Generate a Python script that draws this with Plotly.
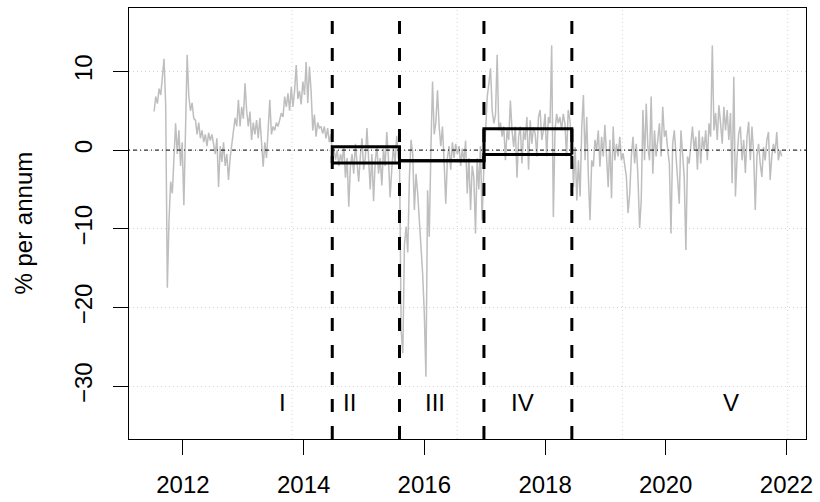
import pandas as pd
import plotly.graph_objects as go

# Start of the sample and the four structural break dates
sample_start = "2011-07-11"
break_dates = ["2014-06-23", "2015-08-04", "2016-12-27", "2018-06-12"]
step = "10D"

# Spread (% per annum), one observation every 10 days within each regime
regime_I = [
    4.9, 6.8, 5.9, 7.8, 7.0, 9.5, 11.6, 5.8, -17.5, -9.0,
    -4.0, -5.5, -1.0, 3.4, -0.5, 2.5, -2.0, 1.0, -7.0, 4.0,
    12.1, 6.8, 5.0, 6.0, 4.0, 3.8, 2.0, 3.5, 1.5, 2.5,
    1.0, 2.0, 0.5, 2.2, 1.2, 2.0, 0.8, -0.5, 1.5, -4.7,
    0.5, -1.5, 1.0, -2.0, -0.5, -3.8, -1.0, 1.0, 2.5, 4.1,
    3.0, 6.4, 3.0, 5.5, 4.0, 8.5, 5.0, 3.0, 4.9, 1.3,
    3.5, 2.0, 3.8, 1.5, 4.1, 0.5, -2.1, 1.0, -1.0, 2.5,
    6.4, 2.0, 3.0, 2.5, 3.5, 3.0, 4.0, 4.7, 4.2, 6.8,
    5.5, 7.2, 5.0, 8.0, 5.5, 7.5, 10.8, 6.5, 7.5, 5.8,
    8.7, 7.0, 11.2, 6.0, 10.6, 7.5, 2.5, 4.5, 1.7, 3.5,
    2.8, 3.0, 2.1, 3.0, 1.5, 2.8, 1.0, 2.0,
]
regime_II = [
    -0.5, 0.3, -1.2, 0.0, -2.0, -0.5, -1.5, 0.5, -3.5, -1.0,
    -7.2, -2.0, -0.5, -3.0, 0.8, -1.5, -4.0, -0.8, 1.5, -2.5,
    -1.0, 2.8, -1.8, -5.0, -0.5, -6.5, -1.5, 0.5, -3.0, -1.0,
    -4.5, 0.2, -2.0, 2.3, -1.0, -6.0, -2.5, 0.5, -1.8, 1.8,
    -1.0,
]
regime_III = [
    -1.0, -22.9, -25.8, -12.0, -9.7, -13.0, -3.4, 1.3, -0.5, -7.6,
    -3.0, -5.5, -9.0, -11.9, -15.7, -20.7, -28.8, -5.1, -11.0, 0.0,
    8.7, 2.0, 3.5, 7.6, 3.0, 0.5, 3.0, -1.5, -6.8, -1.0,
    0.5, -2.5, 1.0, -1.0, 0.8, -0.5, 0.5, -2.0, 0.2, -1.5,
    1.2, -5.5, -1.0, -7.6, -2.0, -3.5, -10.6, -1.0, -5.0, 0.5,
    -8.9,
]
regime_IV = [
    -2.0, 3.4, 6.8, 8.5, 10.4, 5.0, 3.4, 4.5, 12.1, 2.5,
    3.5, 1.7, 3.0, -1.3, 2.5, 1.3, 6.3, 2.5, 0.4, 3.0,
    -3.5, 1.7, 3.0, -1.7, 2.5, 1.3, 4.2, -2.5, 3.8, 0.8,
    2.9, 2.1, -0.8, 4.2, 5.1, 1.3, 2.5, 4.6, -0.8, 4.2,
    3.4, 13.3, -8.5, 2.5, 4.6, 3.4, 4.2, 2.5, 4.6, 3.4,
    -0.8, 5.1, 3.8,
]
regime_V = [
    1.0, -4.7, 0.4, -6.4, -1.3, -5.9, 3.0, 7.0, -1.3, 4.2,
    -3.4, -8.9, -1.3, -2.1, 1.3, 0.0, 2.5, -2.1, 1.7, -0.8,
    3.2, -0.4, -4.7, 1.3, -6.1, 3.0, -1.3, 0.8, -0.8, 1.7,
    -1.3, -0.4, -1.7, -3.4, -8.0, -5.6, -0.8, 1.7, -1.7, 0.8,
    -3.4, -9.9, -6.4, 5.1, -1.3, 5.9, 0.4, -1.3, 6.8, -3.0,
    2.5, -0.8, 1.3, 3.4, -0.8, 5.5, 1.7, 2.5, 0.0, -1.7,
    -10.6, 0.8, 2.5, -0.8, -3.4, -6.8, 2.5, -0.8, -3.4, -12.7,
    -0.8, -1.7, 1.3, 3.0, 0.0, 1.7, -2.5, 2.5, -1.7, 1.7,
    0.0, 2.5, -1.3, 3.4, 1.7, 13.3, 2.5, 4.7, 1.3, 5.7,
    3.4, 0.8, 5.5, 2.5, 5.1, 1.3, 4.7, -4.2, 9.3, -5.9,
    -0.8, 2.1, 3.0, -1.3, 1.3, -2.9, 1.7, 3.6, -1.3, 3.0,
    -0.4, -7.6, -0.8, 0.8, -1.7, -3.4, 0.4, -1.3, 1.3, 2.3,
    -3.8, -0.8, 0.8, -0.4, 2.3, -1.3, 0.0, -0.8,
]

# Estimated levels in regimes II, III and IV
level_upper = [0.42, -1.35, 2.7]
level_lower = [-1.65, -1.35, -0.55]

regime_labels = ["I", "II", "III", "IV", "V"]
label_dates = ["2013-08-26", "2014-10-04", "2016-03-03", "2017-08-18", "2021-01-31"]
label_value = -32

year_ticks = [2012, 2014, 2016, 2018, 2020, 2022]
y_ticks = [-30, -20, -10, 0, 10]
grid_days = [16000, 17000, 18000, 19000]  # day numbers since 1970-01-01

# ---- assemble the series -------------------------------------------------
regimes = [regime_I, regime_II, regime_III, regime_IV, regime_V]
starts = [sample_start] + break_dates
dates, values = [], []
for start, vals in zip(starts, regimes):
    dates.extend(pd.date_range(start, periods=len(vals), freq=step))
    values.extend(vals)

b = pd.to_datetime(break_dates)
upper_x = [b[0], b[0], b[1], b[1], b[2], b[2], b[3], b[3]]
upper_y = [level_lower[0], level_upper[0], level_upper[0], level_upper[1],
           level_upper[1], level_upper[2], level_upper[2], level_lower[2]]
lower_x = [b[0], b[1], b[1], b[2], b[2], b[3]]
lower_y = [level_lower[0], level_lower[0], level_lower[1], level_lower[1],
           level_lower[2], level_lower[2]]

FONT = "Liberation Sans, Arial, Helvetica, sans-serif"

fig = go.Figure()
fig.add_trace(go.Scatter(x=dates, y=values, mode="lines",
                         line=dict(color="#BEBEBE", width=1.5),
                         hoverinfo="skip", showlegend=False))
for xs, ys in ((upper_x, upper_y), (lower_x, lower_y)):
    fig.add_trace(go.Scatter(x=xs, y=ys, mode="lines",
                             line=dict(color="black", width=3),
                             showlegend=False, hoverinfo="skip"))

# dotted vertical grid
for d in pd.to_datetime(grid_days, unit="D"):
    fig.add_shape(type="line", xref="x", yref="paper", x0=d, x1=d, y0=0, y1=1,
                  line=dict(color="#D3D3D3", width=1, dash="1px,3px"), layer="below")

# zero reference line
fig.add_shape(type="line", xref="paper", yref="y", x0=0, x1=1, y0=0, y1=0,
              line=dict(color="black", width=1, dash="1px,3px,4px,3px"))

# break lines
for d in b:
    fig.add_shape(type="line", xref="x", yref="paper", x0=d, x1=d, y0=0, y1=1,
                  line=dict(color="black", width=3, dash="13px,14px"))

for lab, d in zip(regime_labels, label_dates):
    fig.add_annotation(x=d, y=label_value, text=lab, showarrow=False,
                       xanchor="center", yanchor="middle",
                       font=dict(family=FONT, size=24, color="black"))

fig.add_annotation(xref="paper", yref="paper", x=(23 - 129) / 677, y=0.5,
                   text="% per annum", textangle=-90, showarrow=False,
                   xanchor="center", yanchor="middle",
                   font=dict(family=FONT, size=24, color="black"))

fig.update_layout(
    width=820, height=502,
    margin=dict(l=129, r=14, t=8, b=63),
    paper_bgcolor="white", plot_bgcolor="white",
    font=dict(family=FONT, size=24, color="black"),
    showlegend=False,
)
fig.update_xaxes(
    type="date", range=["2011-02-09", "2022-04-29"],
    tickvals=[pd.Timestamp(f"{y}-01-01") for y in year_ticks],
    ticktext=[str(y) for y in year_ticks],
    ticks="outside", ticklen=15, tickwidth=1, tickcolor="black",
    showline=True, mirror=True, linecolor="black", linewidth=1,
    showgrid=False, zeroline=False, ticklabelstandoff=9, automargin=False,
)
fig.update_yaxes(
    range=[-36.7, 18.05], tickvals=y_ticks,
    ticktext=[str(v).replace("-", "\u2212") for v in y_ticks],
    tickangle=-90,
    ticks="outside", ticklen=15, tickwidth=1, tickcolor="black",
    showline=True, mirror=True, linecolor="black", linewidth=1,
    showgrid=True, gridcolor="#D3D3D3", griddash="1px,3px", gridwidth=1,
    zeroline=False, ticklabelstandoff=11, automargin=False,
)

fig.write_html("out.html")
